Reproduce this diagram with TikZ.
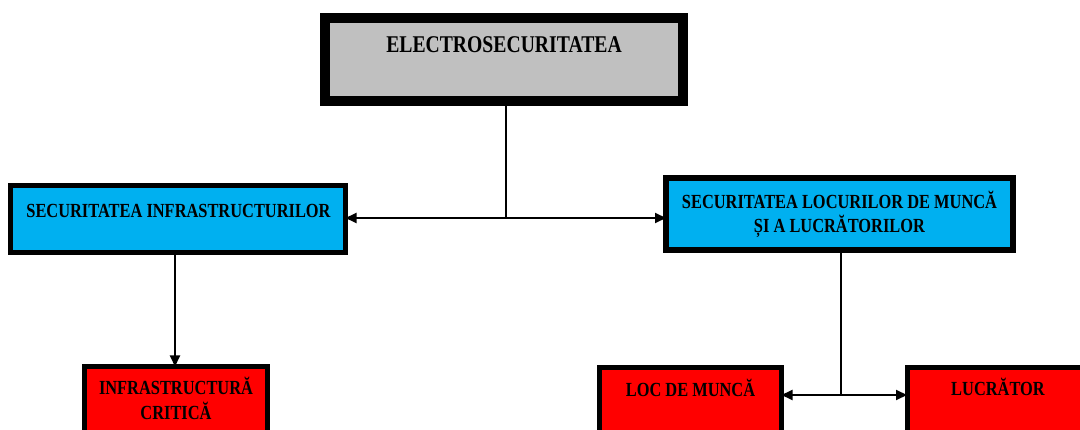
\documentclass[tikz,border=0pt]{standalone}
\usepackage{fontspec}
\newfontfamily\boxfont{Liberation Serif}[FakeStretch=0.82]
\usetikzlibrary{arrows.meta}
\definecolor{boxgray}{HTML}{C0C0C0}
\definecolor{boxblue}{HTML}{00B0F0}
\definecolor{boxred}{HTML}{FF0000}
\begin{document}
\begin{tikzpicture}[x=1pt,y=-1pt,
  frame/.style={draw=black,rectangle,inner sep=0pt,outer sep=0pt},
  topbox/.style={frame,fill=boxgray,line width=10pt},
  midbox/.style={frame,fill=boxblue,line width=5pt},
  lowbox/.style={frame,fill=boxred,line width=5pt},
  label/.style={anchor=base,inner sep=0pt,font=\boxfont\bfseries\fontsize{20}{24}\selectfont},
  biglabel/.style={label,font=\boxfont\bfseries\fontsize{24}{28}\selectfont},
  link/.style={line width=2pt,black},
  tip/.style={-{Triangle[length=11pt,width=10pt]}},
  tips/.style={{Triangle[length=11pt,width=10pt]}-{Triangle[length=11pt,width=10pt]}}]
\useasboundingbox (0,0) rectangle (1080,430);
\clip (0,0) rectangle (1080,430);

% boxes (path drawn on the centre of each border)
\node[topbox,minimum width=358pt,minimum height=83pt] (top) at (504,59.5) {};
\node[midbox,minimum width=335pt,minimum height=67pt] (infra) at (178,219) {};
\node[midbox,line width=6pt,minimum width=347pt,minimum height=72pt] (work) at (839.5,214) {};
\node[lowbox,minimum width=183pt,minimum height=100pt] (crit) at (176,416.5) {};
\node[lowbox,minimum width=182pt,minimum height=100pt] (loc) at (690.5,417.5) {};
\node[lowbox,minimum width=182pt,minimum height=100pt] (worker) at (998,417.5) {};

% texts
\node[biglabel] (ttop) at (504,53) {ELECTROSECURITATEA};
\node[label] (tinfra) at (178.5,218) {SECURITATEA INFRASTRUCTURILOR};
\node[label] (twork1) at (839.5,208.5) {SECURITATEA LOCURILOR DE MUNCĂ};
\node[label] (twork2) at (839.5,232.5) {ȘI A LUCRĂTORILOR};
\node[label] (tcrit1) at (176,394.5) {INFRASTRUCTURĂ};
\node[label] (tcrit2) at (176,419.5) {CRITICĂ};
\node[label] (tloc) at (690.5,396.5) {LOC DE MUNCĂ};
\node[label] (tworker) at (998,395.5) {LUCRĂTOR};

% connectors
\coordinate (j1) at (506,218);
\coordinate (j2) at (841,395);
\draw[link] (j1 |- top.south) -- (j1);
\draw[link,tips] (infra.east |- j1) -- (work.west |- j1);
\draw[link,tip] (175,0 |- infra.south) -- (175,0 |- crit.north);
\draw[link] (j2 |- work.south) -- (j2);
\draw[link,tips] (loc.east |- j2) -- (worker.west |- j2);
\end{tikzpicture}
\end{document}
